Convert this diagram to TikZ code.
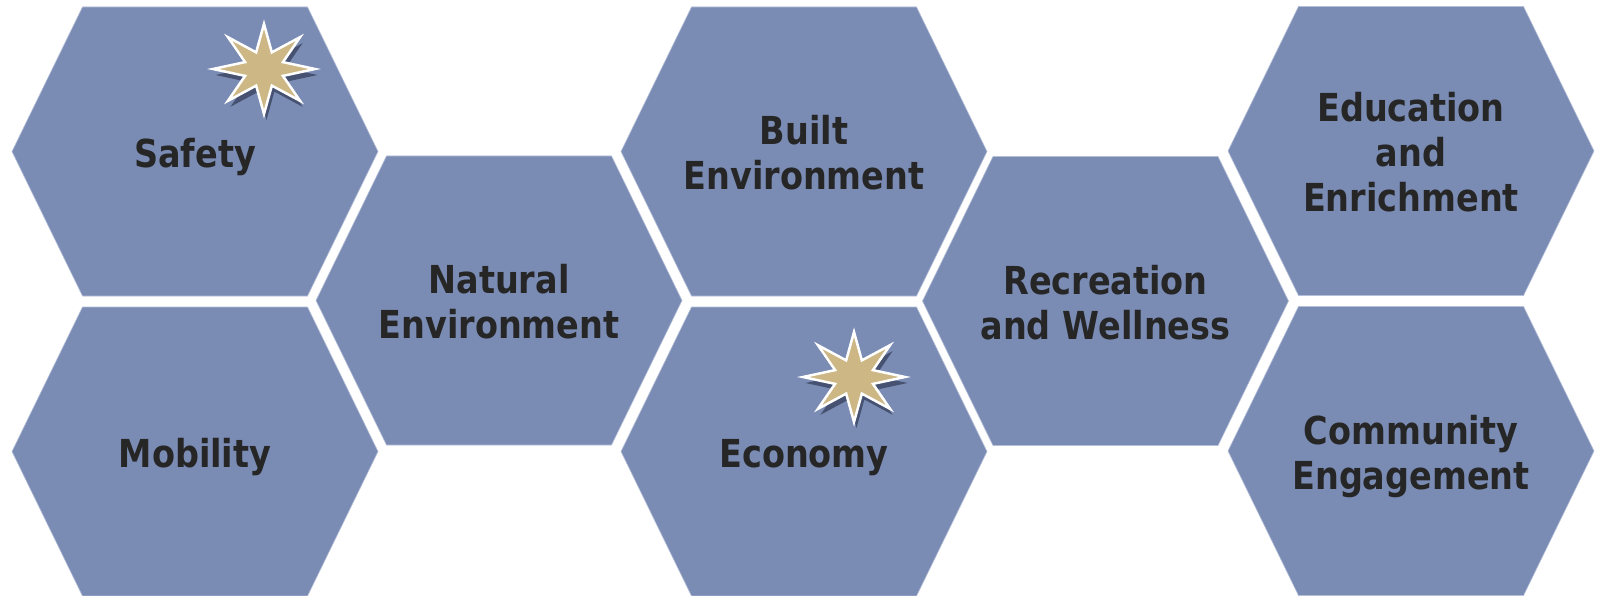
\documentclass[tikz,border=0pt]{standalone}
\usepackage{fontspec}
\setmainfont{DejaVu Sans}[FakeStretch=0.87]
\definecolor{hexblue}{HTML}{7A8BB4}
\definecolor{hexedge}{HTML}{B4BFD8}
\definecolor{stargold}{HTML}{CDB785}
\definecolor{starshadow}{HTML}{3F4967}
\definecolor{labeltext}{HTML}{262626}
\newcommand\lblstrut{\vrule width0pt height0.76em depth0.24em}
\newcommand\drawhexcell[4]{%
  \path[hexcell] (#2,#3) ++(-183,0) -- ++(70.5,-144.5) -- ++(225,0)
    -- ++(70.5,144.5) -- ++(-70.5,144.5) -- ++(-225,0) -- cycle;
  \node[hexlabel] (#1) at (#2,{#3+5.5}) {#4};}
\newcommand\drawstarmark[3]{%
  \path[starshade] plot[samples at={0,...,15}, variable=\k]
    ({#2+2.5+(mod(\k,2)==0 ? 51 : 20.5)*cos(\k*22.5)}, {#3+6+(mod(\k,2)==0 ? 45 : 18)*sin(\k*22.5)}) -- cycle;
  \path[starfill] plot[samples at={0,...,15}, variable=\k]
    ({#2+(mod(\k,2)==0 ? 51 : 20.5)*cos(\k*22.5)}, {#3+(mod(\k,2)==0 ? 45 : 18)*sin(\k*22.5)}) -- cycle;
  \coordinate (#1) at (#2,#3);}
\begin{document}
\begin{tikzpicture}[x=1pt,y=-1pt,
  hexcell/.style={fill=hexblue,draw=hexedge,line width=0.6pt},
  hexlabel/.style={text=labeltext,font=\bfseries\fontsize{38.5}{45}\selectfont,align=center,inner sep=0pt},
  starfill/.style={fill=stargold,draw=white,line width=2.5pt,line join=miter},
  starshade/.style={fill=starshadow,opacity=0.85}]
\useasboundingbox (0,0) rectangle (1601,596);
\fill[white] (0,0) rectangle (1601,596);
\drawhexcell{safety}{195}{151.5}{\lblstrut Safety}
\drawhexcell{mobility}{195}{451.5}{\lblstrut Mobility}
\drawhexcell{natural}{499}{300.5}{\lblstrut Natural\\\lblstrut Environment}
\drawhexcell{built}{804}{151.5}{\lblstrut Built\\\lblstrut Environment}
\drawhexcell{economy}{804}{451.5}{\lblstrut Economy}
\drawhexcell{recreation}{1105.5}{301}{\lblstrut Recreation\\\lblstrut and Wellness}
\drawhexcell{education}{1411}{151}{\lblstrut Education\\\lblstrut and\\\lblstrut Enrichment}
\drawhexcell{community}{1411}{451}{\lblstrut Community\\\lblstrut Engagement}
\drawstarmark{safetystar}{264}{69}
\drawstarmark{economystar}{854}{377}
\end{tikzpicture}
\end{document}
